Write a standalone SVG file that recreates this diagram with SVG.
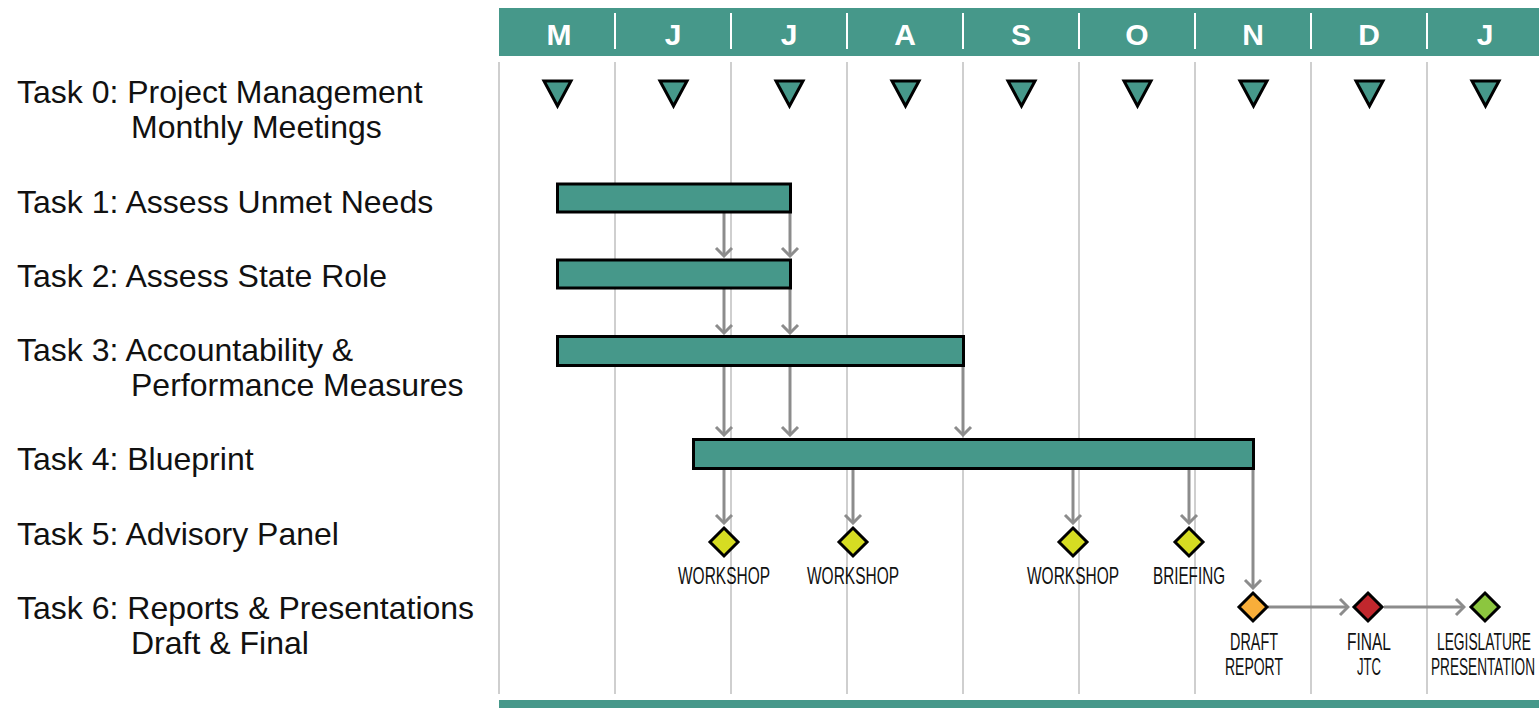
<svg xmlns="http://www.w3.org/2000/svg" width="1539" height="708" viewBox="0 0 1539 708">
<defs>
<style>
.grid{stroke:#cfcfcf;stroke-width:2}
.sep{stroke:#ffffff;stroke-width:2}
.mon{font-family:"Liberation Sans",Arial,sans-serif;font-weight:bold;font-size:30px;fill:#ffffff;text-anchor:middle}
.task{font-family:"Liberation Sans",Arial,sans-serif;font-size:32px;fill:#111111}
.bar{fill:#46988a;stroke:#000;stroke-width:3}
.tri{fill:#46988a;stroke:#000;stroke-width:3;stroke-linejoin:miter}
.dia{stroke:#000;stroke-width:3}
.lbl{font-family:"Liberation Sans",Arial,sans-serif;font-size:24px;fill:#111;text-anchor:middle}
.conn{stroke:#8c8c8c;stroke-width:3;fill:none;marker-end:url(#chev)}
</style>
<marker id="chev" markerUnits="userSpaceOnUse" viewBox="-12 -12 14 24" refX="0" refY="0" markerWidth="14" markerHeight="24" orient="auto">
<path d="M-8,-8 L0,0 L-8,8" fill="none" stroke="#8c8c8c" stroke-width="3"/>
</marker>
</defs>
<rect x="0" y="0" width="1539" height="708" fill="#ffffff"/>
<g id="grid">
<line class="grid" x1="499" y1="62" x2="499" y2="694"/>
<line class="grid" x1="615" y1="62" x2="615" y2="694"/>
<line class="grid" x1="731" y1="62" x2="731" y2="694"/>
<line class="grid" x1="847" y1="62" x2="847" y2="694"/>
<line class="grid" x1="963" y1="62" x2="963" y2="694"/>
<line class="grid" x1="1079" y1="62" x2="1079" y2="694"/>
<line class="grid" x1="1195" y1="62" x2="1195" y2="694"/>
<line class="grid" x1="1311" y1="62" x2="1311" y2="694"/>
<line class="grid" x1="1427" y1="62" x2="1427" y2="694"/>
</g>
<g id="header">
<rect x="499" y="8" width="1040" height="48" fill="#46988a"/>
<rect x="499" y="700" width="1040" height="8" fill="#46988a"/>
<line class="sep" x1="615" y1="13" x2="615" y2="49"/>
<line class="sep" x1="731" y1="13" x2="731" y2="49"/>
<line class="sep" x1="847" y1="13" x2="847" y2="49"/>
<line class="sep" x1="963" y1="13" x2="963" y2="49"/>
<line class="sep" x1="1079" y1="13" x2="1079" y2="49"/>
<line class="sep" x1="1195" y1="13" x2="1195" y2="49"/>
<line class="sep" x1="1311" y1="13" x2="1311" y2="49"/>
<line class="sep" x1="1427" y1="13" x2="1427" y2="49"/>
<text class="mon" x="559" y="45">M</text>
<text class="mon" x="673" y="45">J</text>
<text class="mon" x="789" y="45">J</text>
<text class="mon" x="905" y="45">A</text>
<text class="mon" x="1021" y="45">S</text>
<text class="mon" x="1137" y="45">O</text>
<text class="mon" x="1253" y="45">N</text>
<text class="mon" x="1369" y="45">D</text>
<text class="mon" x="1485" y="45">J</text>
</g>
<g id="labels">
<text class="task" x="17" y="103">Task 0: Project Management</text>
<text class="task" x="131" y="138">Monthly Meetings</text>
<text class="task" x="17" y="213">Task 1: Assess Unmet Needs</text>
<text class="task" x="17" y="287">Task 2: Assess State Role</text>
<text class="task" x="17" y="361">Task 3: Accountability &amp;</text>
<text class="task" x="131" y="396">Performance Measures</text>
<text class="task" x="17" y="470">Task 4: Blueprint</text>
<text class="task" x="17" y="545">Task 5: Advisory Panel</text>
<text class="task" x="17" y="619">Task 6: Reports &amp; Presentations</text>
<text class="task" x="131" y="654">Draft &amp; Final</text>
</g>
<g id="meetings">
<polygon class="tri" points="544,81 571,81 557.5,106"/>
<polygon class="tri" points="660,81 687,81 673.5,106"/>
<polygon class="tri" points="776,81 803,81 789.5,106"/>
<polygon class="tri" points="892,81 919,81 905.5,106"/>
<polygon class="tri" points="1008,81 1035,81 1021.5,106"/>
<polygon class="tri" points="1124,81 1151,81 1137.5,106"/>
<polygon class="tri" points="1240,81 1267,81 1253.5,106"/>
<polygon class="tri" points="1356,81 1383,81 1369.5,106"/>
<polygon class="tri" points="1472,81 1499,81 1485.5,106"/>
</g>
<g id="connectors">
<line class="conn" x1="724" y1="213" x2="724" y2="256"/>
<line class="conn" x1="790" y1="213" x2="790" y2="256"/>
<line class="conn" x1="724" y1="289" x2="724" y2="333"/>
<line class="conn" x1="790" y1="289" x2="790" y2="333"/>
<line class="conn" x1="724" y1="367" x2="724" y2="435"/>
<line class="conn" x1="790" y1="367" x2="790" y2="435"/>
<line class="conn" x1="963" y1="367" x2="963" y2="435"/>
<line class="conn" x1="724" y1="470" x2="724" y2="523"/>
<line class="conn" x1="853" y1="470" x2="853" y2="523"/>
<line class="conn" x1="1073" y1="470" x2="1073" y2="523"/>
<line class="conn" x1="1189" y1="470" x2="1189" y2="523"/>
<line class="conn" x1="1253" y1="470" x2="1253" y2="588"/>
<line class="conn" x1="1268" y1="607" x2="1348" y2="607"/>
<line class="conn" x1="1384" y1="607" x2="1464" y2="607"/>
</g>
<g id="task1"><rect class="bar" x="557.5" y="184" width="233" height="28"/></g>
<g id="task2"><rect class="bar" x="557.5" y="260" width="233" height="28"/></g>
<g id="task3"><rect class="bar" x="557.5" y="336.5" width="406" height="29"/></g>
<g id="task4"><rect class="bar" x="693.5" y="439.5" width="560" height="29"/></g>
<g id="ws1"><polygon class="dia" fill="#d6dc22" points="724,528 738,542 724,556 710,542"/><text class="lbl" x="724" y="584" textLength="92" lengthAdjust="spacingAndGlyphs">WORKSHOP</text></g>
<g id="ws2"><polygon class="dia" fill="#d6dc22" points="853,528 867,542 853,556 839,542"/><text class="lbl" x="853" y="584" textLength="92" lengthAdjust="spacingAndGlyphs">WORKSHOP</text></g>
<g id="ws3"><polygon class="dia" fill="#d6dc22" points="1073,528 1087,542 1073,556 1059,542"/><text class="lbl" x="1073" y="584" textLength="92" lengthAdjust="spacingAndGlyphs">WORKSHOP</text></g>
<g id="brief"><polygon class="dia" fill="#d6dc22" points="1189,528 1203,542 1189,556 1175,542"/><text class="lbl" x="1189" y="584" textLength="72" lengthAdjust="spacingAndGlyphs">BRIEFING</text></g>
<g id="draft"><polygon class="dia" fill="#f8ae3a" points="1253,593 1267,607 1253,621 1239,607"/><text class="lbl" x="1254" y="650" textLength="48" lengthAdjust="spacingAndGlyphs">DRAFT</text><text class="lbl" x="1254" y="675" textLength="58" lengthAdjust="spacingAndGlyphs">REPORT</text></g>
<g id="final"><polygon class="dia" fill="#c1272d" points="1368,593 1382,607 1368,621 1354,607"/><text class="lbl" x="1369" y="650" textLength="44" lengthAdjust="spacingAndGlyphs">FINAL</text><text class="lbl" x="1369" y="675" textLength="24" lengthAdjust="spacingAndGlyphs">JTC</text></g>
<g id="legis"><polygon class="dia" fill="#8cc63f" points="1485,593 1499,607 1485,621 1471,607"/><text class="lbl" x="1484" y="650" textLength="94" lengthAdjust="spacingAndGlyphs">LEGISLATURE</text><text class="lbl" x="1483" y="675" textLength="104" lengthAdjust="spacingAndGlyphs">PRESENTATION</text></g>
</svg>
